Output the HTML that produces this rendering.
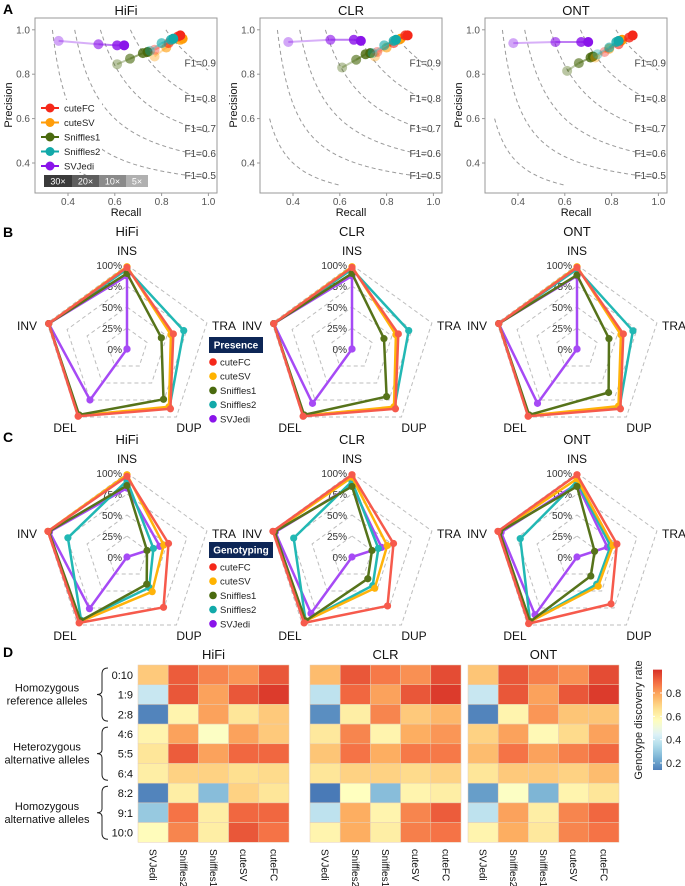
<!DOCTYPE html>
<html><head><meta charset="utf-8"><style>
html,body{margin:0;padding:0;background:#fff;}
svg{display:block;font-family:"Liberation Sans",Arial,sans-serif;}
</style></head><body>
<svg id="fig" width="685" height="886" viewBox="0 0 685 886" xmlns="http://www.w3.org/2000/svg">
<g font-weight="bold" font-size="14" fill="#000">
<text x="3" y="14">A</text>
<text x="3" y="237">B</text>
<text x="3" y="442">C</text>
<text x="3" y="657">D</text>
</g>
</svg>
<script>
const NS="http://www.w3.org/2000/svg";
const svg=document.getElementById('fig');
function mk(tag,attrs,parent,text){const e=document.createElementNS(NS,tag);for(const k in attrs)e.setAttribute(k,attrs[k]);if(text!==undefined)e.textContent=text;(parent||svg).appendChild(e);return e;}

// ---------- Panel A data (5x,10x,20x,30x) ----------
const platforms=["HiFi","CLR","ONT"];
const tools=["cuteFC","cuteSV","Sniffles1","Sniffles2","SVJedi"];
const coverages=["5×","10×","20×","30×"];
const hifiRecall={cuteFC:[0.77,0.83,0.87,0.88],cuteSV:[0.77,0.82,0.88,0.89],Sniffles1:[0.61,0.665,0.72,0.74],Sniffles2:[0.75,0.80,0.84,0.85],SVJedi:[0.36,0.53,0.61,0.64]};
const hifiPrecision={cuteFC:[0.91,0.94,0.97,0.975],cuteSV:[0.88,0.92,0.955,0.96],Sniffles1:[0.845,0.87,0.895,0.90],Sniffles2:[0.905,0.94,0.955,0.96],SVJedi:[0.95,0.935,0.93,0.93]};
const clrRecall={cuteFC:[0.76,0.83,0.88,0.89],cuteSV:[0.75,0.80,0.85,0.86],Sniffles1:[0.61,0.67,0.71,0.73],Sniffles2:[0.74,0.79,0.83,0.84],SVJedi:[0.38,0.56,0.66,0.69]};
const clrPrecision={cuteFC:[0.90,0.94,0.975,0.975],cuteSV:[0.88,0.92,0.955,0.96],Sniffles1:[0.83,0.865,0.89,0.895],Sniffles2:[0.895,0.93,0.95,0.955],SVJedi:[0.945,0.955,0.955,0.95]};
const ontRecall={cuteFC:[0.77,0.83,0.875,0.89],cuteSV:[0.73,0.79,0.84,0.845],Sniffles1:[0.61,0.66,0.71,0.72],Sniffles2:[0.74,0.79,0.82,0.83],SVJedi:[0.38,0.56,0.67,0.70]};
const ontPrecision={cuteFC:[0.90,0.935,0.965,0.975],cuteSV:[0.875,0.915,0.95,0.955],Sniffles1:[0.815,0.85,0.875,0.88],Sniffles2:[0.89,0.92,0.945,0.95],SVJedi:[0.94,0.945,0.945,0.945]};
const f1Levels=[0.4,0.5,0.6,0.7,0.8,0.9];
const xTicks=[0.4,0.6,0.8,1.0];
const yTicks=[0.4,0.6,0.8,1.0];

// ---------- Radar data: axes INS,TRA,DUP,DEL,INV ----------
const radarAxes=["INS","TRA","DUP","DEL","INV"];
const presHiFi={cuteFC:[0.97,0.58,0.88,0.99,0.98],cuteSV:[0.98,0.55,0.85,0.98,0.98],Sniffles1:[0.90,0.43,0.74,0.97,0.98],Sniffles2:[0.95,0.71,0.86,0.98,0.98],SVJedi:[0.87,0,0,0.75,0.98]};
const presCLR={cuteFC:[0.97,0.58,0.88,0.99,0.98],cuteSV:[0.98,0.55,0.85,0.98,0.98],Sniffles1:[0.90,0.40,0.70,0.97,0.98],Sniffles2:[0.95,0.71,0.86,0.98,0.98],SVJedi:[0.87,0,0,0.80,0.98]};
const presONT={cuteFC:[0.97,0.58,0.88,0.99,0.98],cuteSV:[0.98,0.55,0.84,0.98,0.98],Sniffles1:[0.88,0.40,0.64,0.97,0.98],Sniffles2:[0.95,0.70,0.86,0.98,0.98],SVJedi:[0.87,0,0,0.80,0.98]};
const genoHiFi={cuteFC:[0.96,0.52,0.74,0.97,0.99],cuteSV:[0.98,0.46,0.51,0.95,0.99],Sniffles1:[0.85,0.25,0.40,0.94,0.98],Sniffles2:[0.91,0.33,0.45,0.93,0.74],SVJedi:[0.82,0.41,0,0.76,0.97]};
const genoCLR={cuteFC:[0.98,0.52,0.72,0.97,0.99],cuteSV:[0.95,0.44,0.46,0.94,0.98],Sniffles1:[0.84,0.25,0.32,0.94,0.97],Sniffles2:[0.90,0.33,0.42,0.94,0.73],SVJedi:[0.85,0.37,0,0.83,0.96]};
const genoONT={cuteFC:[0.98,0.50,0.69,0.98,0.99],cuteSV:[0.93,0.45,0.43,0.95,0.98],Sniffles1:[0.84,0.22,0.28,0.95,0.97],Sniffles2:[0.90,0.42,0.40,0.95,0.71],SVJedi:[0.87,0.38,0,0.85,0.95]};
const radarTicks=[0,0.25,0.5,0.75,1.0];
const radarTickLabels=["0%","25%","50%","75%","100%"];

// ---------- Heatmap data ----------
const hmRows=["0:10","1:9","2:8","4:6","5:5","6:4","8:2","9:1","10:0"];
const hmCols=["SVJedi","Sniffles2","Sniffles1","cuteSV","cuteFC"];
const hmHiFi=[[0.72,0.92,0.85,0.82,0.93],[0.40,0.93,0.80,0.93,0.98],[0.15,0.60,0.80,0.65,0.72],[0.60,0.80,0.55,0.80,0.72],[0.65,0.92,0.80,0.90,0.90],[0.62,0.70,0.70,0.67,0.68],[0.15,0.62,0.27,0.70,0.65],[0.30,0.88,0.62,0.90,0.90],[0.57,0.85,0.62,0.93,0.88]];
const hmCLR=[[0.75,0.93,0.87,0.83,0.95],[0.38,0.90,0.80,0.93,0.98],[0.17,0.62,0.85,0.72,0.76],[0.64,0.85,0.60,0.78,0.82],[0.73,0.88,0.78,0.87,0.87],[0.65,0.70,0.70,0.68,0.70],[0.13,0.56,0.27,0.60,0.62],[0.38,0.78,0.60,0.85,0.92],[0.60,0.78,0.62,0.86,0.88]];
const hmONT=[[0.73,0.93,0.86,0.83,0.95],[0.40,0.93,0.80,0.93,0.98],[0.15,0.60,0.82,0.73,0.73],[0.70,0.80,0.58,0.68,0.80],[0.75,0.88,0.80,0.86,0.90],[0.65,0.72,0.72,0.70,0.75],[0.20,0.55,0.25,0.60,0.65],[0.38,0.80,0.62,0.85,0.90],[0.60,0.78,0.64,0.85,0.88]];
const cbTicks=[0.2,0.4,0.6,0.8];

const ptColor={cuteFC:"#f5281a",cuteSV:"#ff9d0a",Sniffles1:"#4a6a0e",Sniffles2:"#12a9a9",SVJedi:"#8a14ea"};
const radColor={cuteFC:"#f65a4c",cuteSV:"#ffb30a",Sniffles1:"#56731a",Sniffles2:"#22b8b4",SVJedi:"#a64af5"};

// ---------- Panel A ----------
const recallSets=[hifiRecall,clrRecall,ontRecall];
const precSets=[hifiPrecision,clrPrecision,ontPrecision];
const shadeOp=[0.38,0.62,0.82,1];
platforms.forEach((pf,i)=>{
  const ox=i*225;
  const g=mk('g',{},svg);
  
  
  const xs=r=>ox+68+(r-0.4)*234;
  const ys=p=>163-(p-0.4)*222;
  const L=ox+35,R=ox+217,T=18,B=193;
  const cid='clipA'+i;
  const cp=mk('clipPath',{id:cid},g);mk('rect',{x:L,y:T,width:R-L,height:B-T},cp);
  const t=mk('text',{x:ox+126,y:15,'text-anchor':'middle','font-size':13,fill:'#111'},g,pf);
  
  const fg=mk('g',{'clip-path':'url(#'+cid+')'},g);
  f1Levels.forEach(F=>{
    let d='';let r0=Math.max(0.3,F/(2-F)+0.0001);
    for(let r=r0;r<=1.0001;r+=0.005){const p=F*r/(2*r-F);if(p<0.3)break;d+=(d?'L':'M')+xs(r).toFixed(1)+','+ys(Math.min(p,1.0)).toFixed(1);}
    const c=mk('path',{d:d,fill:'none',stroke:'#9a9a9a','stroke-width':1,'stroke-dasharray':'4,3'},fg);
    
    if(F>=0.5){const r=0.965;const p=F*r/(2*r-F);
      const lt=mk('text',{x:xs(r),y:ys(p)+2,'text-anchor':'middle','font-size':10,fill:'#444'},g,'F1='+F.toFixed(1));
      }
  });
  mk('rect',{x:L,y:T,width:R-L,height:B-T,fill:'none',stroke:'#999','stroke-width':1},g);
  xTicks.forEach(v=>{mk('line',{x1:xs(v),x2:xs(v),y1:B,y2:B+3,stroke:'#999'},g);
    const tt=mk('text',{x:xs(v),y:B+12,'text-anchor':'middle','font-size':10,fill:'#555'},g,v.toFixed(1));
    });
  yTicks.forEach(v=>{mk('line',{x1:L-3,x2:L,y1:ys(v),y2:ys(v),stroke:'#999'},g);
    const tt=mk('text',{x:L-5,y:ys(v)+3.5,'text-anchor':'end','font-size':10,fill:'#555'},g,v.toFixed(1));
    });
  const xt=mk('text',{x:ox+126,y:216,'text-anchor':'middle','font-size':11,fill:'#111'},g,'Recall');
  
  const yt=mk('text',{x:0,y:0,transform:'translate('+(ox+12)+',105) rotate(-90)','text-anchor':'middle','font-size':11,fill:'#111'},g,'Precision');
  
  if(i===0){
    const lg=mk('g',{},g);
    mk('rect',{x:38,y:100,width:64,height:72,fill:'#fff'},lg);
    tools.forEach((tn,k)=>{const y=108+k*14.5;
      const e=mk('g',{},lg);
      mk('line',{x1:41,x2:59,y1:y,y2:y,stroke:ptColor[tn],'stroke-width':2},e);
      mk('circle',{cx:50,cy:y,r:4.5,fill:ptColor[tn]},e);
      mk('text',{x:64,y:y+3.5,'font-size':9.5,fill:'#222'},e,tn);});
    const shades=['#3a3a3a','#5e5e5e','#8a8a8a','#b0b0b0'];const lab=['30×','20×','10×','5×'];const wd=[28,27,27,22];let x=44;
    lab.forEach((l,k)=>{const c=mk('g',{},lg);
      mk('rect',{x:x,y:175,width:wd[k],height:12,fill:shades[k]},c);
      mk('text',{x:x+wd[k]/2,y:184.5,'text-anchor':'middle','font-size':9,fill:'#fff'},c,l);x+=wd[k];});
  }
  const pg=mk('g',{'clip-path':'url(#'+cid+')'},g);
  const order=["SVJedi","Sniffles1","cuteSV","cuteFC","Sniffles2"];
  order.forEach(tn=>{const rr=recallSets[i][tn],pp=precSets[i][tn];
    const sg=mk('g',{},pg);
    for(let k=0;k<rr.length-1;k++){mk('line',{x1:xs(rr[k]),y1:ys(pp[k]),x2:xs(rr[k+1]),y2:ys(pp[k+1]),stroke:ptColor[tn],'stroke-width':2,'stroke-opacity':shadeOp[k]*0.9},sg);}
    rr.forEach((r,k)=>{const c=mk('circle',{cx:xs(r),cy:ys(pp[k]),r:5,fill:ptColor[tn],'fill-opacity':shadeOp[k]},sg);
      });
  });
});

// ---------- Radar ----------
const angs=[-90,-18,54,126,198].map(a=>a*Math.PI/180);
const RR=84;
function radar(cx,cy,vals,title,name){
  const g=mk('g',{},svg);
  const pt=(v,k)=>[cx+RR*v*Math.cos(angs[k]),cy+RR*v*Math.sin(angs[k])];
  const tt=mk('text',{x:cx,y:cy-113,'text-anchor':'middle','font-size':13,fill:'#111'},g,title);
  
  radarTicks.forEach(v=>{if(v===0)return;const d=angs.map((a,k)=>pt(v,k).map(n=>n.toFixed(1)).join(',')).join(' ');
    const p=mk('polygon',{points:d,fill:'none',stroke:'#bdbdbd','stroke-width':1,'stroke-dasharray':'4,3'},g);
    });
  radarTicks.forEach((v,k)=>{const t=mk('text',{x:cx-5,y:cy-RR*v+4,'text-anchor':'end','font-size':10,fill:'#333'},g,radarTickLabels[k]);
    });
  const lp=[[cx,cy-98,'middle'],[cx+97,cy-23,'middle'],[cx+62,cy+79,'middle'],[cx-62,cy+79,'middle'],[cx-100,cy-23,'middle']];
  radarAxes.forEach((a,k)=>{const t=mk('text',{x:lp[k][0],y:lp[k][1]+4,'text-anchor':lp[k][2],'font-size':12,fill:'#111'},g,a);
    });
  ["SVJedi","Sniffles2","cuteSV","Sniffles1","cuteFC"].forEach(tn=>{
    const sg=mk('g',{},g);
    const ps=vals[tn].map((v,k)=>pt(v,k));
    mk('polygon',{points:ps.map(p=>p.map(n=>n.toFixed(1)).join(',')).join(' '),fill:'none',stroke:radColor[tn],'stroke-width':2.5,'stroke-linejoin':'round'},sg);
    ps.forEach(p=>mk('circle',{cx:p[0],cy:p[1],r:3.6,fill:radColor[tn]},sg));
  });
}
function radarLegend(x,y,title,name,w){
  const g=mk('g',{},svg);
  mk('rect',{x:x,y:y,width:w,height:16,fill:'#0d2656'},g);
  mk('text',{x:x+w/2,y:y+11.5,'text-anchor':'middle','font-size':10,'font-weight':'bold',fill:'#fff'},g,title);
  tools.forEach((tn,k)=>{const yy=y+25+k*14.2;const e=mk('g',{},g);
    
    mk('circle',{cx:x+4,cy:yy,r:3.8,fill:ptColor[tn]==="#ff9d0a"?"#ffb300":ptColor[tn]},e);
    mk('text',{x:x+11,y:yy+3.5,'font-size':9.5,fill:'#222'},e,tn);});
}
const presSets=[presHiFi,presCLR,presONT],genoSets=[genoHiFi,genoCLR,genoONT];
platforms.forEach((pf,i)=>{radar(127+i*225,349,presSets[i],pf,'presence-radar-'+pf.toLowerCase());
  radar(127+i*225,557,genoSets[i],pf,'genotyping-radar-'+pf.toLowerCase());});
radarLegend(209,337,'Presence','presence-legend',54);
radarLegend(209,542,'Genotyping','genotyping-legend',64);

// ---------- Heatmaps ----------
const stops=["#4575b4","#74add1","#abd9e9","#e0f3f8","#ffffbf","#fee090","#fdae61","#f46d43","#d73027"];
function hex(c){return [1,3,5].map(i=>parseInt(c.substr(i,2),16));}
function cmap(v){let t=(v-0.12)/(1.0-0.12);t=Math.max(0,Math.min(1,t));const s=t*(stops.length-1);const i=Math.min(stops.length-2,Math.floor(s));const f=s-i;
  const a=hex(stops[i]),b=hex(stops[i+1]);return 'rgb('+a.map((x,k)=>Math.round(x+(b[k]-x)*f)).join(',')+')';}
const hmSets=[hmHiFi,hmCLR,hmONT];const hmX=[138,310,468];const cw=30.2,ch=19.7,hy=665;
platforms.forEach((pf,i)=>{
  const g=mk('g',{},svg);
  const t=mk('text',{x:hmX[i]+cw*2.5,y:659,'text-anchor':'middle','font-size':13,fill:'#111'},g,pf);
  
  hmSets[i].forEach((row,r)=>row.forEach((v,c)=>{
    const rc=mk('rect',{x:hmX[i]+c*cw,y:hy+r*ch,width:cw,height:ch,fill:cmap(v),stroke:'#e6cdb4','stroke-width':0.5},g);
    }));
  hmCols.forEach((cn,c)=>{const x=hmX[i]+c*cw+cw/2-3.5;
    const tx=mk('text',{x:0,y:0,transform:'translate('+x+',849) rotate(90)','font-size':10,fill:'#111'},g,cn);
    });
});
const rl=mk('g',{},svg);
hmRows.forEach((rn,r)=>{const t=mk('text',{x:133,y:hy+r*ch+ch/2+4,'text-anchor':'end','font-size':11,fill:'#111'},rl,rn);
  });
const groups=[["Homozygous","reference alleles"],["Heterozygous","alternative alleles"],["Homozygous","alternative alleles"]];
groups.forEach((gr,k)=>{const y0=hy+k*3*ch+3,y1=hy+(k*3+3)*ch-3,ym=(y0+y1)/2;
  const b=mk('path',{d:`M108,${y0} Q102,${y0} 102,${y0+6} L102,${ym-4} Q102,${ym} 97,${ym} Q102,${ym} 102,${ym+4} L102,${y1-6} Q102,${y1} 108,${y1}`,fill:'none',stroke:'#222','stroke-width':1},rl);
  
  const t=mk('text',{x:47,y:ym-3,'text-anchor':'middle','font-size':11,fill:'#111'},rl,gr[0]);
  
  mk('text',{x:47,y:ym+10,'text-anchor':'middle','font-size':11,fill:'#111'},rl,gr[1]);});
const cbg=mk('g',{},svg);
const cbY=v=>763-(v-0.2)*116.7;
const grad=mk('linearGradient',{id:'cbgrad',x1:0,y1:1,x2:0,y2:0},cbg);
for(let k=0;k<=20;k++){const v=0.14+k*(0.86/20);mk('stop',{offset:(k/20),'stop-color':cmap(v)},grad);}
mk('rect',{x:653,y:cbY(1.0),width:9,height:cbY(0.14)-cbY(1.0),fill:'url(#cbgrad)'},cbg);
cbTicks.forEach(v=>{mk('line',{x1:653,x2:655,y1:cbY(v),y2:cbY(v),stroke:'#fff'},cbg);mk('line',{x1:660,x2:662,y1:cbY(v),y2:cbY(v),stroke:'#fff'},cbg);
  const t=mk('text',{x:666,y:cbY(v)+4,'font-size':11,fill:'#222'},cbg,v.toFixed(1));
  });
const ct=mk('text',{x:0,y:0,transform:'translate(642,720) rotate(-90)','text-anchor':'middle','font-size':11,fill:'#222'},cbg,'Genotype discovery rate');

</script>
</body></html>
